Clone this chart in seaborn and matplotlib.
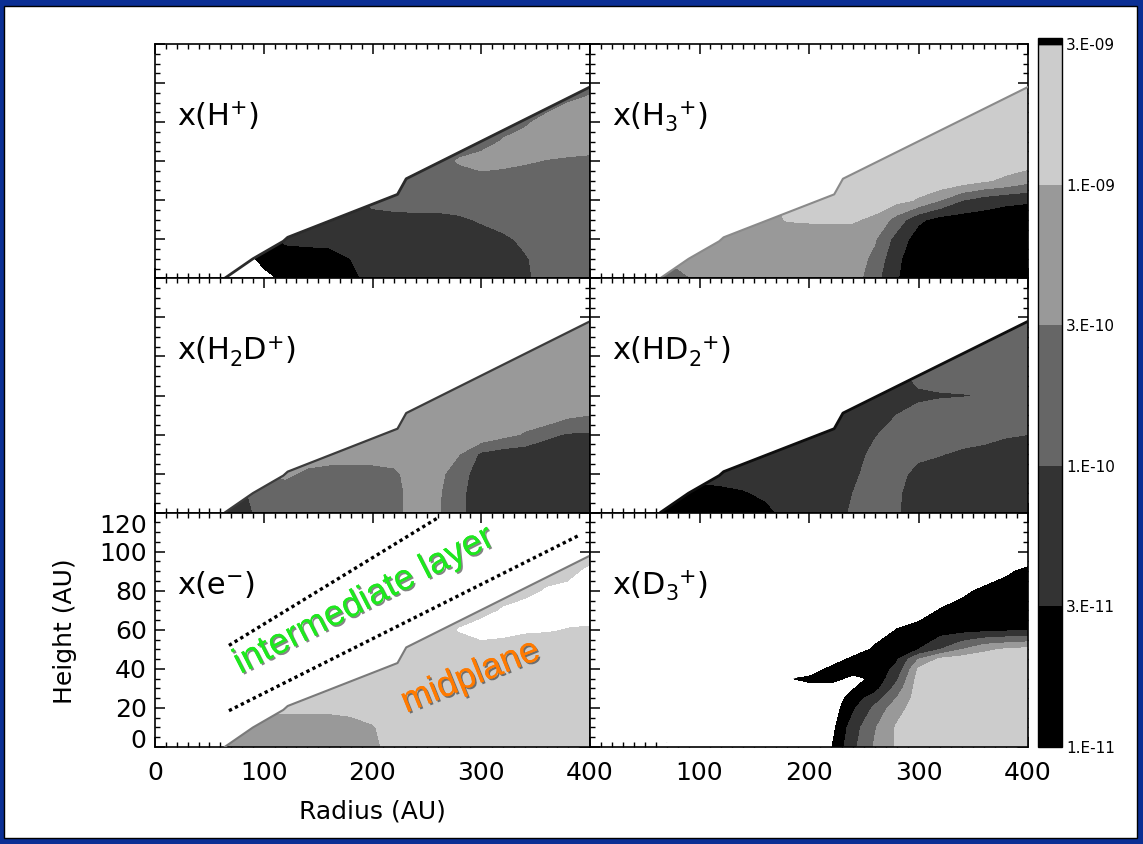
import numpy as np
import matplotlib
matplotlib.use("Agg")
import matplotlib.pyplot as plt
import seaborn as sns
import matplotlib.cm as cm
import matplotlib.transforms as mtransforms
import matplotlib.patheffects as pe
from matplotlib.colors import ListedColormap, BoundaryNorm
from matplotlib.patches import Polygon, Rectangle
from matplotlib.ticker import MultipleLocator

# ---------------------------------------------------------------- data
# model grid (AU)
R_GRID = list(range(0, 401, 20))
Z_GRID = list(range(0, 121, 10))
Z_GRID_D3 = [0, 10, 20, 25, 30, 35, 40, 45, 50, 60, 70, 80, 90, 100, 110, 120]

# contour levels (uniform colour-bar positions) and their labels
LEVEL_POS = [0, 1, 2, 3, 4, 5]
LEVEL_LABELS = ["1.E-11", "3.E-11", "1.E-10", "3.E-10", "1.E-09", "3.E-09"]
LEVEL_COLORS = ["#000000", "#333333", "#666666", "#999999", "#cccccc"]

# disk surface (upper boundary of the model domain)
SURF_R = [64, 90, 118, 122, 223, 231, 400]
SURF_Z = [0, 10, 19, 21, 43, 51, 98]

# abundances on the colour-bar scale; rows from Z=120 (top) down to Z=0
X_HP = [
    [-0.5] * 5 + [0.5, 1.5, 1.5, 1.5, 1.6, 2.3] + [2.5] * 10,
    [-0.5] * 5 + [0.5, 1.5, 1.5, 1.5, 1.6, 2.3] + [2.5] * 10,
    [-0.5] * 5 + [0.5, 1.5, 1.5, 1.5, 1.6, 2.3] + [2.5] * 10,
    [-0.5] * 5 + [0.5, 1.5, 1.5, 1.5, 1.6, 2.3] + [2.5] * 8 + [3.0, 3.3],
    [-0.5] * 5 + [0.5, 1.5, 1.5, 1.5, 1.6, 2.3] + [2.5] * 6 + [2.8, 3.4, 3.5, 3.5],
    [-0.5] * 5 + [0.5, 1.5, 1.5, 1.5, 1.6, 2.3] + [2.5] * 5 + [3.1, 3.5, 3.5, 3.5, 3.5],
    [-0.5] * 5 + [0.5, 1.5, 1.5, 1.5, 1.6, 2.3, 2.5, 2.5, 2.6, 3.1, 3.5, 3.3, 3.1, 2.95, 2.85, 2.75],
    [-0.5] * 5 + [0.5, 1.5, 1.5, 1.5, 1.6, 2.3] + [2.5] * 10,
    [-0.5] * 5 + [0.5, 1.5, 1.5, 1.5, 1.6, 2.3, 2.4] + [2.5] * 9,
    [-0.5] * 5 + [0.5, 1.5, 1.5, 1.5, 1.5, 1.6, 1.7, 1.7, 1.7, 1.85, 2.1, 2.4] + [2.5] * 4,
    [-0.5] * 5 + [0.5, 1.2, 1.3, 1.4, 1.5, 1.5, 1.5, 1.5, 1.5, 1.6, 1.6, 1.8, 2.2] + [2.5] * 3,
    [-0.5] * 5 + [0.3, 0.5, 0.5, 0.5, 1.0, 1.5, 1.5, 1.5, 1.5, 1.5, 1.5, 1.6, 1.9, 2.4, 2.5, 2.5],
    [-0.5] * 5 + [-0.3, 0.2, 0.5, 0.5, 0.6, 1.5, 1.5, 1.5, 1.5, 1.5, 1.5, 1.5, 1.85, 2.3, 2.5, 2.5],
]

X_H3P = [
    [3.5] * 8 + [3.7] + [4.5] * 12,
    [3.5] * 8 + [3.7] + [4.5] * 12,
    [3.5] * 8 + [3.7] + [4.5] * 12,
    [3.5] * 8 + [3.7] + [4.5] * 12,
    [3.5] * 8 + [3.7] + [4.5] * 12,
    [3.5] * 8 + [3.7] + [4.5] * 12,
    [3.5] * 8 + [3.7] + [4.5] * 12,
    [3.5] * 8 + [3.7] + [4.5] * 7 + [4.8, 4.5, 4.1, 3.8, 3.3],
    [3.5] * 8 + [3.7] + [4.5] * 5 + [4.3, 3.9, 3.0, 2.0, 1.5, 1.2, 1.1],
    [3.5] * 8 + [3.7, 4.05, 4.1, 4.1, 4.1, 3.8, 2.6, 1.2, 0.6, 0.5, 0.5, 0.5, 0.5],
    [3.5] * 13 + [3.1, 1.6, 0.5, 0.5, 0.5, 0.5, 0.5, 0.5],
    [3.5] * 13 + [2.75, 1.15, 0.5, 0.5, 0.5, 0.5, 0.5, 0.5],
    [2.5] * 5 + [3.3] + [3.5] * 7 + [2.35, 1.05, 0.5, 0.5, 0.5, 0.5, 0.5, 0.5],
]

X_H2DP = [
    [3.5] * 21,
    [3.5] * 21,
    [3.5] * 21,
    [3.5] * 21,
    [3.5] * 21,
    [3.5] * 21,
    [3.5] * 21,
    [3.5] * 18 + [3.8, 3.2, 3.0],
    [3.5] * 15 + [3.8, 3.3, 2.9, 2.2, 1.9, 1.9],
    [3.5] * 14 + [3.0, 1.8, 1.5, 1.4, 1.4, 1.4, 1.4],
    [3.5] * 5 + [3.0, 3.2, 2.8, 2.6, 2.6, 2.6, 2.8, 3.5, 3.3, 2.4] + [1.5] * 6,
    [1.8] * 5 + [2.6, 2.5, 2.5, 2.5, 2.5, 2.5, 2.6, 3.5, 3.15, 2.2] + [1.5] * 6,
    [1.5, 1.5, 1.5, 1.5, 1.3, 2.7, 2.5, 2.5, 2.5, 2.5, 2.5, 2.6, 3.5, 3.1, 2.2] + [1.5] * 6,
]

X_HD2P = [
    [1.5] * 15 + [2.5] * 6,
    [1.5] * 15 + [2.5] * 6,
    [1.5] * 15 + [2.5] * 6,
    [1.5] * 15 + [2.5] * 6,
    [1.5] * 15 + [2.5] * 6,
    [1.5] * 15 + [2.5] * 6,
    [1.5] * 15 + [1.7, 1.9, 1.95, 2.05, 2.5, 2.5],
    [1.5] * 14 + [2.0] + [2.5] * 6,
    [1.5] * 13 + [1.9, 2.5, 2.5, 2.5, 2.5, 2.4, 2.1, 2.0],
    [1.5] * 13 + [2.3, 2.5, 2.3, 2.05, 1.8, 1.6, 1.5, 1.5],
    [1.5] * 5 + [1.4] + [1.5] * 6 + [1.75, 2.5, 2.4, 1.6] + [1.5] * 5,
    [0.8] * 5 + [0.6, 0.7, 0.9, 1.2, 1.5, 1.5, 1.5, 2.0, 2.5, 2.15] + [1.5] * 6,
    [0.5] * 8 + [0.7, 1.3, 1.5, 1.3, 2.2, 2.5, 2.1] + [1.5] * 6,
]

X_EM = [
    [4.5] * 21,
    [4.5] * 21,
    [4.5] * 21,
    [4.5] * 19 + [4.7, 5.2],
    [4.5] * 18 + [5.1, 5.25, 5.6],
    [4.5] * 16 + [5.1, 5.6, 5.6, 5.6, 5.6],
    [4.5] * 14 + [5.05, 5.6, 5.5, 5.2, 5.1, 4.9, 4.8],
    [4.5] * 15 + [4.4, 4.2, 4.0, 4.0, 4.0, 4.0],
    [4.5] * 21,
    [4.5] * 21,
    [4.2] * 9 + [4.3] + [4.5] * 11,
    [3.5] * 9 + [3.6, 3.9] + [4.5] * 10,
    [3.5] * 10 + [3.7] + [4.5] * 10,
]

# rows follow Z_GRID_D3 from the top (120) down to 0
X_D3P = [
    [-1.0] * 21,
    [-1.0] * 21,
    [-1.0] * 21,
    [-1.0] * 19 + [-0.2, 0.3],
    [-1.0] * 17 + [-0.3, 0.3, 0.5, 0.5],
    [-1.0] * 15 + [-0.7, 0.1, 0.5, 0.5, 0.5, 0.5],
    [-1.0] * 14 + [0.05, 0.5, 0.5, 0.6, 0.7, 0.8, 0.9],
    [-1.0] * 13 + [0.3, 0.6, 1.0, 2.0, 3.0, 3.8, 4.1, 4.3],
    [-1.0] * 12 + [0.4, 0.5, 0.9, 3.0, 4.2, 4.5, 4.5, 4.5, 4.5],
    [-1.0] * 11 + [0.4, 0.5, 0.5, 1.2, 4.1, 4.5, 4.5, 4.5, 4.5, 4.5],
    [-1.0] * 9 + [-0.1, 0.3, 0.4, -0.3, 0.2, 1.8, 4.4, 4.5, 4.5, 4.5, 4.5, 4.5],
    [-1.0] * 9 + [-0.5, -0.5, -0.5, -0.05, 0.6, 2.4, 4.5, 4.5, 4.5, 4.5, 4.5, 4.5],
    [-1.0] * 11 + [-0.8, 0.5, 1.5, 3.0] + [4.5] * 6,
    [-1.0] * 11 + [-0.6, 0.8, 2.2, 3.6] + [4.5] * 6,
    [-1.0] * 11 + [-0.4, 1.5, 2.9, 4.1] + [4.5] * 6,
    [-1.0] * 11 + [-0.1, 1.75, 3.1, 4.1] + [4.5] * 6,
]

# annotation lines bounding the intermediate layer (R, Z in AU)
LAYER_TOP_R = [68, 259]
LAYER_TOP_Z = [52, 117]
LAYER_BOT_R = [68, 391]
LAYER_BOT_Z = [18.6, 108.7]

# panel labels: (text, 'n' normal / 'sub' subscript / 'sup' superscript)
LBL_HP = [("x(H", "n"), ("+", "sup"), (")", "n")]
LBL_H3P = [("x(H", "n"), ("3", "sub"), ("+", "sup"), (")", "n")]
LBL_H2DP = [("x(H", "n"), ("2", "sub"), ("D", "n"), ("+", "sup"), (")", "n")]
LBL_HD2P = [("x(HD", "n"), ("2", "sub"), ("+", "sup"), (")", "n")]
LBL_EM = [("x(e", "n"), ("\u2212", "sup"), (")", "n")]
LBL_D3P = [("x(D", "n"), ("3", "sub"), ("+", "sup"), (")", "n")]

PANELS = [
    (LBL_HP, X_HP, Z_GRID, "#2b2b2b", 2.0),
    (LBL_H3P, X_H3P, Z_GRID, "#8a8a8a", 1.5),
    (LBL_H2DP, X_H2DP, Z_GRID, "#3c3c3c", 1.6),
    (LBL_HD2P, X_HD2P, Z_GRID, "#0e0e0e", 2.0),
    (LBL_EM, X_EM, Z_GRID, "#7a7a7a", 1.5),
    (LBL_D3P, X_D3P, Z_GRID_D3, None, 0),
]

# ---------------------------------------------------------------- style
sns.set_theme(style="ticks", context="notebook")
plt.rcParams["font.family"] = ["DejaVu Sans"]
plt.rcParams["text.color"] = "black"
plt.rcParams["axes.labelcolor"] = "black"
plt.rcParams["axes.edgecolor"] = "black"
plt.rcParams["xtick.color"] = "black"
plt.rcParams["ytick.color"] = "black"

W, H = 1143, 844
fig = plt.figure(figsize=(W / 100, H / 100), dpi=100)
fig.patch.set_facecolor("#0b2f94")
fig.add_artist(Rectangle((4 / W, 6 / H), 1133 / W, 832 / H, transform=fig.transFigure,
                         facecolor="white", edgecolor="black", lw=1.0, zorder=-10))
renderer = fig.canvas.get_renderer()

cmap = ListedColormap(LEVEL_COLORS).with_extremes(under="white", over="white")
norm = BoundaryNorm(LEVEL_POS, cmap.N)

col_left = [155 / W, 590 / W]
col_w = [435 / W, 438 / W]
row_h = 234.33 / H
row_bottom = [(97 + 2 * 234.33) / H, (97 + 234.33) / H, 97 / H]

clip_verts = [(SURF_R[0], -5)] + list(zip(SURF_R, SURF_Z)) + \
             [(410, SURF_Z[-1] + 3), (410, -5)]


def chem_label(ax, parts, x=0.05, y=0.655, size=22):
    """Write a species label piece by piece with real sub/superscripts."""
    px, py = ax.transAxes.transform((x, y))
    shift = {"n": 0.0, "sub": -6.5, "sup": 10.5}
    for txt, kind in parts:
        fs = size if kind == "n" else size * 0.68
        t = fig.text(px, py + shift[kind], txt, fontsize=fs, ha="left",
                     va="baseline", color="black",
                     transform=mtransforms.IdentityTransform())
        px = t.get_window_extent(renderer).x1 + (0.5 if kind != "n" else 0.0)


axes = []
for i, (label, vals, zgrid, edge_c, edge_w) in enumerate(PANELS):
    row, col = divmod(i, 2)
    ax = fig.add_axes([col_left[col], row_bottom[row], col_w[col], row_h])
    ax.set_facecolor("white")
    field = np.array(vals, dtype=float)[::-1]
    cs = ax.contourf(R_GRID, zgrid, field, levels=LEVEL_POS, cmap=cmap, norm=norm,
                     extend="both")
    clip = Polygon(clip_verts, closed=True, transform=ax.transData)
    cs.set_clip_path(clip)
    if edge_c is not None:
        sns.lineplot(x=SURF_R, y=SURF_Z, ax=ax, color=edge_c, lw=edge_w,
                     sort=False, estimator=None, zorder=3)
    ax.set_xlim(0, 400)
    ax.set_ylim(0, 120)
    ax.set_xlabel("")
    ax.set_ylabel("")
    ax.xaxis.set_major_locator(MultipleLocator(100))
    ax.xaxis.set_minor_locator(MultipleLocator(10))
    ax.yaxis.set_major_locator(MultipleLocator(20))
    ax.yaxis.set_minor_locator(MultipleLocator(5))
    ax.tick_params(which="both", direction="in", top=True, right=True,
                   bottom=True, left=True, color="black")
    ax.tick_params(which="major", length=7, width=1.1)
    ax.tick_params(which="minor", length=3.3, width=1.0)
    ax.tick_params(labelbottom=False, labelleft=False)
    for sp in ax.spines.values():
        sp.set_linewidth(1.2)
        sp.set_color("black")
    chem_label(ax, label)
    axes.append(ax)

# tick labels on the bottom row
ax_e, ax_d = axes[4], axes[5]
ax_e.set_xticks([0, 100, 200, 300, 400])
ax_e.set_xticklabels(["0", "100", "200", "300", "400"])
ax_e.set_yticks([0, 20, 40, 60, 80, 100, 120])
ax_e.set_yticklabels(["0", "20", "40", "60", "80", "100", "120"])
ax_e.tick_params(labelbottom=True, labelleft=True, labelsize=18, pad=10,
                 labelcolor="black")
ax_e.tick_params(axis="y", pad=6)
ax_d.set_xticks([0, 100, 200, 300, 400])
ax_d.set_xticklabels(["", "100", "200", "300", "400"])
ax_d.tick_params(labelbottom=True, labelsize=18, pad=10, labelcolor="black")
ylabs = ax_e.get_yticklabels()
ylabs[0].set_transform(ylabs[0].get_transform() +
                       mtransforms.ScaledTranslation(0, 0.08, fig.dpi_scale_trans))
ylabs[-1].set_transform(ylabs[-1].get_transform() +
                        mtransforms.ScaledTranslation(0, -0.11, fig.dpi_scale_trans))

# intermediate layer / midplane annotations
for rr, zz in ((LAYER_TOP_R, LAYER_TOP_Z), (LAYER_BOT_R, LAYER_BOT_Z)):
    sns.lineplot(x=rr, y=zz, ax=ax_e, color="black", lw=2.4,
                 linestyle=(0, (1.0, 1.0)), sort=False, estimator=None, zorder=4)
shadow = [pe.withSimplePatchShadow(offset=(1.2, -1.2), shadow_rgbFace="#202020",
                                   alpha=0.55), pe.Normal()]
ax_e.text(192, 75, "intermediate layer", rotation=27, rotation_mode="anchor",
          ha="center", va="center", fontsize=26, color="#1ee81e",
          family=["Liberation Sans", "DejaVu Sans"], zorder=5, path_effects=shadow)
ax_e.text(290, 36, "midplane", rotation=22, rotation_mode="anchor",
          ha="center", va="center", fontsize=26, color="#ff7a00",
          family=["Liberation Sans", "DejaVu Sans"], zorder=5, path_effects=shadow)
if ax_e.get_legend() is not None:
    ax_e.get_legend().remove()

# axis titles
fig.text(372 / W, 1 - 812 / H, "Radius (AU)", ha="center", va="center",
         fontsize=18, color="black")
fig.text(65 / W, 1 - 631 / H, "Height (AU)", ha="center", va="center",
         rotation=90, fontsize=18, color="black")

# colour bar
cax = fig.add_axes([1038 / W, 97 / H, 24 / W, 703 / H])
cb = fig.colorbar(cm.ScalarMappable(norm=norm, cmap=cmap), cax=cax, ticks=LEVEL_POS)
cax.set_yticks(LEVEL_POS)
cax.set_yticklabels(LEVEL_LABELS, fontsize=11, color="black")
cax.tick_params(length=0, pad=3)
cb.outline.set_linewidth(1.0)
cb.outline.set_edgecolor("black")
cax.add_patch(Rectangle((0, 1.0), 1, 0.008, transform=cax.transAxes,
                        facecolor="black", edgecolor="black", clip_on=False))

fig.savefig("out.png", dpi=100, facecolor=fig.get_facecolor())
